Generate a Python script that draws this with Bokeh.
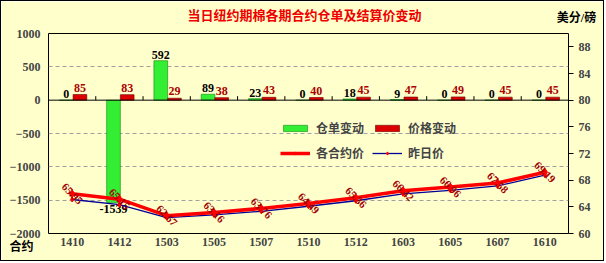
from bokeh.plotting import figure
from bokeh.models import (ColumnDataSource, Range1d, LinearAxis, FixedTicker, Label,
                          Legend, LegendItem, Span, FactorRange)
from bokeh.transform import dodge
from bokeh.core.properties import value
from bokeh.embed import file_html
from bokeh.resources import INLINE

# ---- data ----
contracts = ["1410", "1412", "1503", "1505", "1507", "1510", "1512", "1603", "1605", "1607", "1610"]
warrant_change = [0, -1539, 592, 89, 23, 0, 18, 9, 0, 0, 0]
price_change = [85, 83, 29, 38, 43, 40, 45, 47, 49, 45, 45]
settle_price = [65.95, 65.15, 62.67, 63.16, 63.76, 64.49, 65.36, 66.42, 66.96, 67.58, 69.19]
prev_price = [65.10, 64.32, 62.38, 62.78, 63.33, 64.09, 64.91, 65.95, 66.47, 67.13, 68.74]
left_ticks = [-2000, -1500, -1000, -500, 0, 500, 1000]
right_ticks = [60, 64, 68, 72, 76, 80, 84, 88]

NUM_FONT = "Liberation Serif"
CJK_FONT = "Noto Sans CJK SC"
MIX_FONT = "Liberation Serif, Noto Sans CJK SC"
BG = "#FFFFCC"

src = ColumnDataSource(dict(
    x=contracts, w=warrant_change, pc=price_change,
    settle=settle_price, prev=prev_price,
    ptxt=["%.2f" % v for v in settle_price],
    pctxt=[str(v) for v in price_change],
))
neg_idx = [i for i, v in enumerate(warrant_change) if v < 0]
pos_idx = [i for i, v in enumerate(warrant_change) if v >= 0]
src_pos = ColumnDataSource(dict(x=[contracts[i] for i in pos_idx],
                                y=[warrant_change[i] for i in pos_idx],
                                t=[str(warrant_change[i]) for i in pos_idx]))
src_neg = ColumnDataSource(dict(x=[contracts[i] for i in neg_idx],
                                y=[warrant_change[i] for i in neg_idx],
                                t=[str(warrant_change[i]) for i in neg_idx]))

p = figure(width=604, height=261,
           x_range=FactorRange(*contracts, range_padding=0),
           y_range=Range1d(-2000, 1000),
           output_backend="svg", toolbar_location=None,
           min_border_left=47, min_border_right=36,
           min_border_top=32, min_border_bottom=29)
p.styles = {"border": "1px solid black"}
p.background_fill_color = BG
p.border_fill_color = BG
p.outline_line_color = "black"
p.outline_line_width = 1

p.extra_y_ranges = {"price": Range1d(60, 90)}

# axes
p.xaxis.major_tick_line_color = None
p.xaxis.major_tick_out = 0
p.xaxis.major_tick_in = 0
p.xaxis.minor_tick_line_color = None
p.xaxis.axis_line_color = None
p.xaxis.major_label_text_font = NUM_FONT
p.xaxis.major_label_text_font_style = "bold"
p.xaxis.major_label_text_font_size = "12px"
p.xaxis.major_label_standoff = 4

p.yaxis.ticker = FixedTicker(ticks=left_ticks)
p.yaxis.major_tick_line_color = None
p.yaxis.major_tick_out = 0
p.yaxis.major_tick_in = 0
p.yaxis.minor_tick_line_color = None
p.yaxis.axis_line_color = None
p.yaxis.major_label_text_font = NUM_FONT
p.yaxis.major_label_text_font_style = "bold"
p.yaxis.major_label_text_font_size = "12px"
p.yaxis.major_label_standoff = 8

ra = LinearAxis(y_range_name="price", ticker=FixedTicker(ticks=right_ticks))
ra.axis_line_color = None
ra.major_tick_out = 5
ra.major_tick_in = 0
ra.major_tick_line_color = "black"
ra.minor_tick_line_color = None
ra.major_label_text_font = NUM_FONT
ra.major_label_text_font_style = "bold"
ra.major_label_text_font_size = "12px"
ra.major_label_standoff = 5
p.add_layout(ra, "right")

p.xgrid.grid_line_color = None
p.ygrid.ticker = FixedTicker(ticks=[-1500, -1000, -500, 500])
p.ygrid.grid_line_color = "#A0A0A0"
p.ygrid.grid_line_dash = "4 3"

# bars
g = p.vbar(x=dodge("x", -0.125, range=p.x_range), top="w", bottom=0, width=0.29,
           source=src, fill_color="#33EE33", line_color="#118811", line_width=0.6)
r = p.vbar(x=dodge("x", 0.165, range=p.x_range), top="pc", bottom=0, width=0.29,
           source=src, fill_color="#DD0000", line_color="#660000", line_width=0.6)

p.add_layout(Span(location=0, dimension="width", line_color="black", line_width=1))
# category tick marks on zero line
p.segment(x0=dodge("x", 0.5, range=p.x_range), x1=dodge("x", 0.5, range=p.x_range),
          y0=0, y1=60, source=ColumnDataSource(dict(x=contracts[:-1])),
          line_color="black", line_width=1)

# bar labels
p.text(x=dodge("x", -0.125, range=p.x_range), y="y", text="t", source=src_pos,
       text_align="center", text_baseline="bottom", y_offset=-2,
       text_font=value(NUM_FONT), text_font_style="bold", text_font_size="12px",
       text_color="black")
p.text(x=dodge("x", -0.125, range=p.x_range), y="y", text="t", source=src_neg,
       text_align="center", text_baseline="top", y_offset=2,
       text_font=value(NUM_FONT), text_font_style="bold", text_font_size="12px",
       text_color="black")
p.text(x=dodge("x", 0.165, range=p.x_range), y="pc", text="pctxt", source=src,
       text_align="center", text_baseline="bottom", y_offset=-3,
       text_font=value(NUM_FONT), text_font_style="bold", text_font_size="12px",
       text_color="#AA0000")

# lines
l2 = p.line(x="x", y="prev", source=src, y_range_name="price",
            line_color="#000099", line_width=1.3)
m2 = p.scatter(x="x", y="prev", source=src, y_range_name="price",
               marker="diamond", size=5, color="#FF0000")
l1 = p.line(x="x", y="settle", source=src, y_range_name="price",
            line_color="#FF0000", line_width=3.5)
m1 = p.scatter(x="x", y="settle", source=src, y_range_name="price",
               marker="diamond", size=8, color="#FF0000")

p.text(x="x", y="settle", text="ptxt", source=src, y_range_name="price",
       angle=-0.78, text_align="center", text_baseline="middle",
       text_font=value(NUM_FONT), text_font_style="bold", text_font_size="11px",
       text_color="#A00000")

legend = Legend(items=[
    LegendItem(label="仓单变动", renderers=[g]),
    LegendItem(label="各合约价", renderers=[l1, m1]),
    LegendItem(label="价格变动", renderers=[r]),
    LegendItem(label="昨日价", renderers=[l2, m2]),
], ncols=2, location=(232, 72))
legend.background_fill_alpha = 0
legend.border_line_color = None
legend.padding = 0
legend.margin = 0
legend.glyph_width = 30
legend.glyph_height = 8
legend.label_height = 15
legend.spacing = 8
legend.label_standoff = 6
legend.label_text_font = CJK_FONT
legend.label_text_font_style = "bold"
legend.label_text_font_size = "12px"
p.add_layout(legend)

# texts outside the plot area, each in its own side panel
def panel_text(place, x, y, text, size="12px", color="black"):
    p.add_layout(Label(x=x, y=y, x_units="screen", y_units="screen", text=text,
                       text_align="center", text_baseline="middle", text_font=MIX_FONT,
                       text_font_style="bold", text_font_size=size, text_color=color),
                 place)

panel_text("above", 256, 18, "当日纽约期棉各期合约仓单及结算价变动", "13px", "#EE0000")
panel_text("above", 528, 1, "美分/磅")
panel_text("right", -577, 285, "手")
panel_text("below", -27, 16, "合约")

open("out.html", "w").write(file_html(p, INLINE))
